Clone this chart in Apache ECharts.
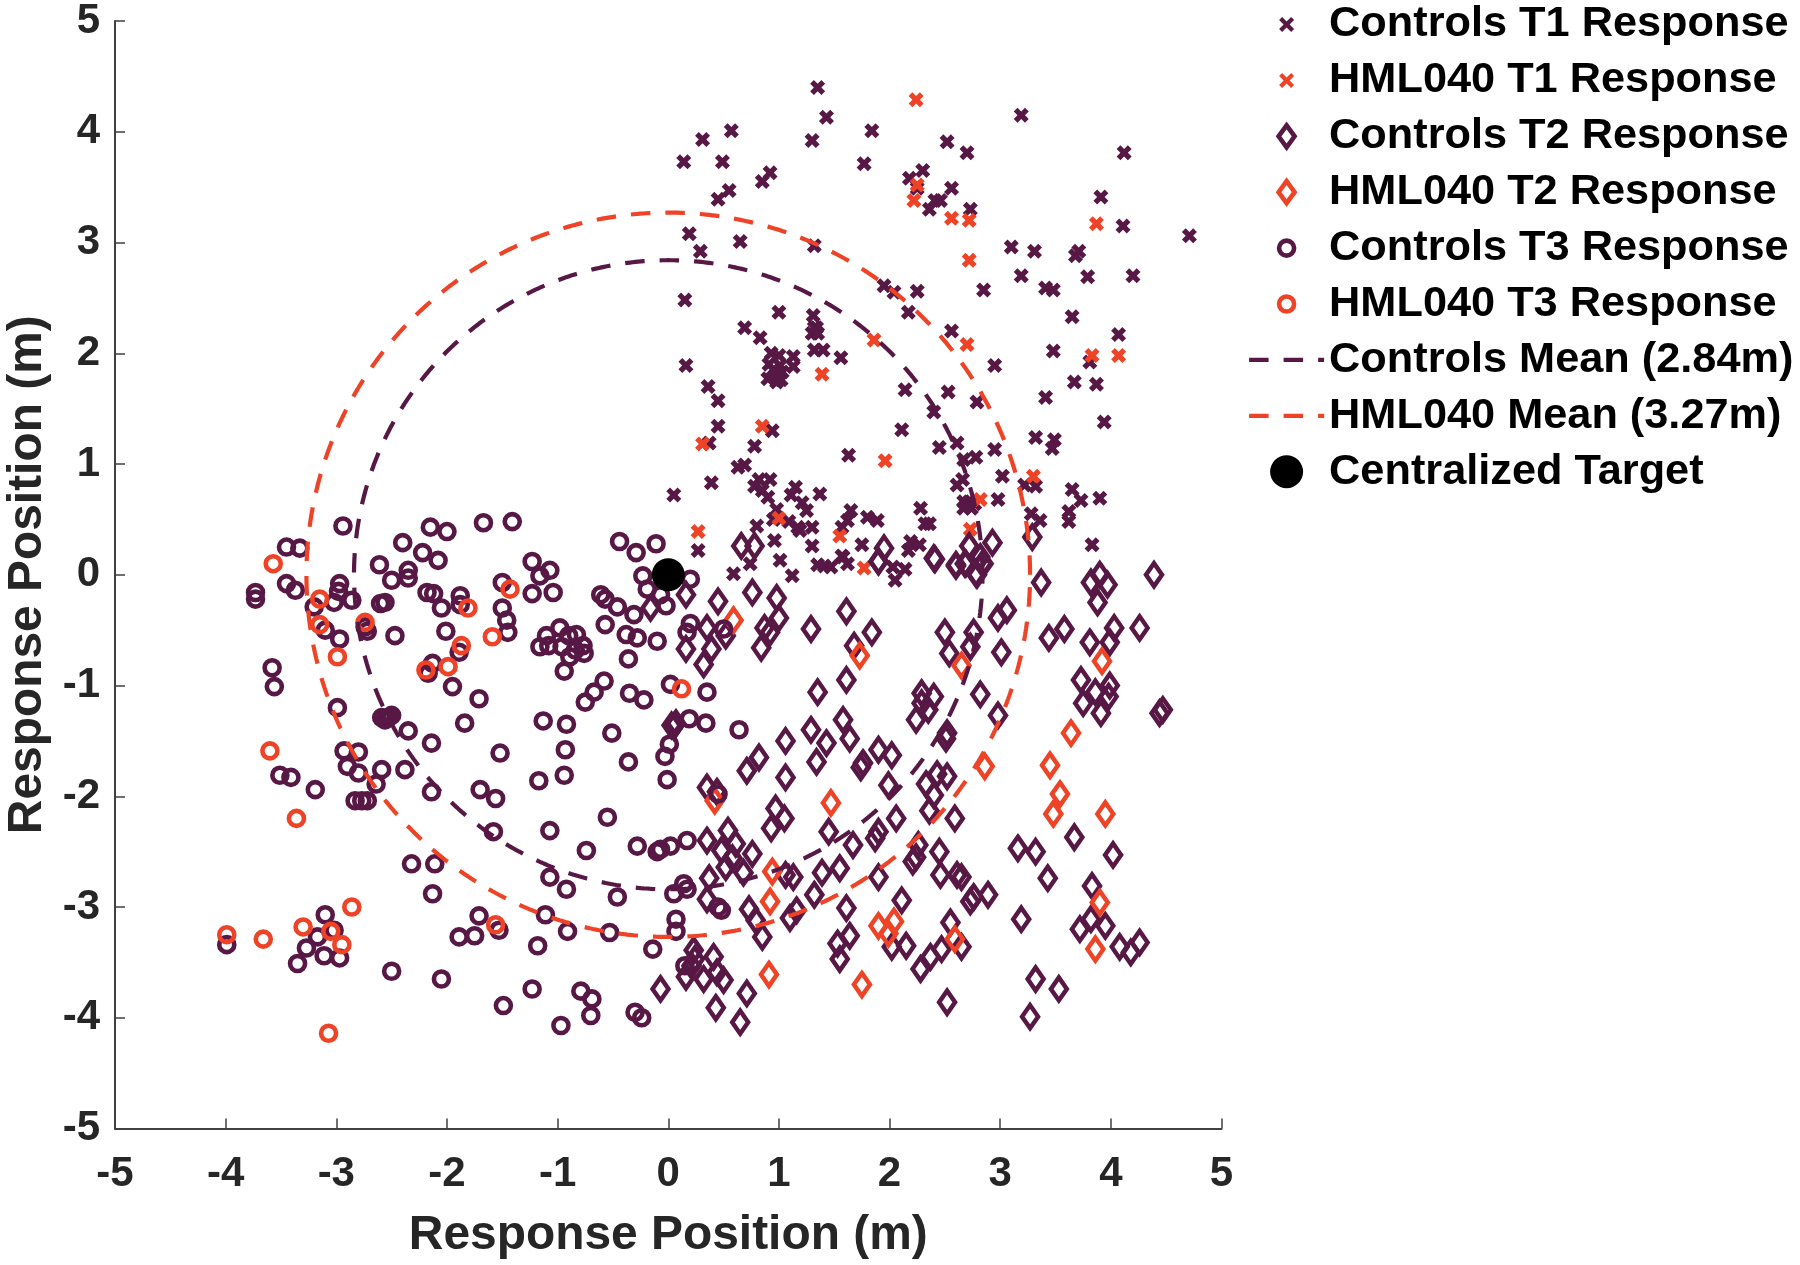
<!DOCTYPE html>
<html><head><meta charset="utf-8"><title>Response positions</title>
<style>html,body{margin:0;padding:0;background:#fff}#c{width:1800px;height:1265px}</style>
<script src="https://cdn.jsdelivr.net/npm/echarts@6/dist/echarts.min.js"></script></head>
<body><div id="c"></div>
<script>
const controlsT1 = [[1.35,4.40],[3.19,4.15],[1.43,4.13],[0.57,4.01],[1.84,4.01],[0.31,3.93],[1.30,3.92],[2.52,3.91],[2.70,3.81],[4.12,3.81],[0.14,3.73],[0.49,3.73],[1.77,3.71],[0.92,3.63],[2.30,3.65],[0.85,3.55],[2.18,3.58],[2.25,3.49],[2.56,3.49],[0.55,3.47],[0.45,3.39],[3.91,3.41],[2.41,3.38],[2.46,3.38],[2.36,3.30],[2.73,3.30],[4.11,3.15],[4.71,3.06],[0.19,3.08],[0.65,3.01],[0.29,2.92],[1.32,2.97],[3.10,2.96],[3.31,2.92],[3.71,2.92],[3.68,2.88],[3.19,2.70],[3.79,2.69],[4.20,2.70],[1.95,2.61],[2.04,2.55],[2.25,2.56],[2.85,2.57],[3.41,2.59],[3.48,2.57],[0.15,2.48],[1.00,2.37],[2.17,2.37],[1.31,2.34],[3.65,2.33],[1.32,2.23],[1.34,2.23],[1.30,2.18],[1.35,2.18],[0.69,2.23],[2.56,2.20],[4.07,2.17],[0.83,2.14],[1.32,2.03],[1.40,2.03],[3.48,2.02],[1.56,1.96],[3.81,1.92],[2.95,1.89],[0.93,2.00],[1.00,1.98],[1.13,1.97],[0.91,1.90],[1.01,1.89],[1.13,1.88],[0.90,1.77],[0.96,1.79],[1.03,1.83],[0.98,1.74],[0.95,1.85],[1.02,1.76],[0.16,1.89],[0.36,1.70],[0.45,1.57],[3.67,1.74],[3.87,1.72],[2.14,1.67],[2.53,1.65],[2.79,1.56],[3.41,1.60],[2.40,1.47],[3.94,1.38],[0.45,1.34],[0.94,1.30],[2.11,1.31],[3.32,1.24],[3.49,1.22],[3.47,1.14],[0.37,1.19],[0.78,1.16],[2.45,1.15],[2.61,1.19],[2.95,1.13],[1.63,1.08],[2.67,1.04],[2.78,1.06],[0.69,0.99],[0.63,0.97],[3.02,0.89],[2.66,0.86],[2.61,0.81],[0.82,0.86],[0.92,0.86],[0.39,0.83],[0.78,0.80],[0.85,0.76],[0.90,0.70],[1.15,0.79],[1.11,0.72],[1.37,0.73],[3.22,0.81],[3.32,0.80],[3.65,0.77],[3.73,0.67],[3.90,0.69],[2.98,0.68],[2.67,0.66],[2.72,0.66],[2.77,0.64],[2.67,0.60],[2.74,0.60],[0.05,0.72],[1.21,0.65],[1.25,0.58],[0.98,0.59],[0.95,0.50],[2.28,0.60],[1.65,0.58],[1.62,0.49],[1.57,0.43],[1.80,0.52],[1.89,0.49],[2.32,0.46],[2.36,0.46],[3.28,0.55],[3.36,0.49],[3.62,0.57],[3.62,0.48],[1.09,0.48],[1.17,0.43],[1.19,0.40],[1.30,0.43],[0.80,0.44],[0.27,0.22],[0.96,0.31],[1.30,0.26],[1.75,0.27],[2.19,0.30],[2.27,0.27],[2.17,0.22],[3.83,0.27],[1.57,0.17],[1.62,0.10],[0.74,0.10],[1.01,0.13],[1.35,0.09],[1.41,0.08],[1.47,0.07],[2.03,0.07],[2.14,0.05],[0.59,0.01],[1.12,-0.01],[2.05,-0.05],[1.58,0.16]];
const hmlT1 = [[2.24,4.29],[2.25,3.52],[2.22,3.38],[2.56,3.22],[2.72,3.20],[3.87,3.17],[2.72,2.84],[1.86,2.12],[2.70,2.08],[3.83,1.98],[4.07,1.98],[1.39,1.81],[0.85,1.34],[0.31,1.18],[1.96,1.03],[3.30,0.89],[2.82,0.68],[1.00,0.51],[1.55,0.35],[2.73,0.41],[0.27,0.39],[1.77,0.06]];
const controlsT2 = [[4.39,0],[3.37,-0.07],[3.90,0],[3.82,-0.07],[3.97,-0.09],[3.88,-0.25],[2.41,0.14],[1.90,0.12],[2.60,0.09],[2.68,0.10],[2.84,0.10],[2.79,0],[0.45,-0.24],[0.76,-0.16],[0.98,-0.21],[0.16,-0.18],[-0.16,-0.30],[1.61,-0.33],[1.00,-0.39],[1.29,-0.49],[1.84,-0.52],[0.87,-0.48],[0.92,-0.52],[0.35,-0.48],[0.16,-0.67],[0.39,-0.67],[0.32,-0.81],[0.84,-0.66],[1.68,-0.64],[2.50,-0.52],[2.76,-0.52],[2.98,-0.39],[3.06,-0.32],[2.73,-0.65],[2.54,-0.71],[3.01,-0.70],[3.44,-0.57],[3.58,-0.49],[4.03,-0.48],[4.26,-0.48],[3.81,-0.61],[3.99,-0.61],[0.52,-0.55],[1.61,-0.95],[1.35,-1.06],[2.82,-1.08],[3.73,-0.95],[3.99,-1.00],[3.86,-1.06],[3.75,-1.16],[3.98,-1.10],[3.91,-1.25],[2.29,-1.07],[2.29,-1.16],[2.40,-1.10],[2.35,-1.22],[2.24,-1.31],[2.98,-1.27],[4.44,-1.25],[4.47,-1.22],[2.51,-1.48],[2.52,-1.43],[1.58,-1.31],[1.64,-1.48],[1.29,-1.40],[1.06,-1.50],[1.43,-1.52],[1.34,-1.69],[0.82,-1.65],[0.71,-1.77],[1.06,-1.83],[1.76,-1.70],[1.74,-1.74],[1.90,-1.58],[2.02,-1.63],[1.99,-1.90],[2.33,-1.89],[2.43,-1.80],[2.52,-1.82],[2.40,-1.99],[2.36,-2.13],[2.59,-2.20],[2.06,-2.20],[0.35,-1.92],[0.44,-1.96],[0.97,-2.11],[1.05,-2.20],[0.93,-2.29],[0.54,-2.31],[0.35,-2.40],[0.48,-2.49],[0.61,-2.43],[0.76,-2.52],[0.58,-2.56],[0.52,-2.64],[0.68,-2.69],[0.37,-2.74],[0.73,-3.02],[0.35,-2.93],[1.45,-2.32],[1.90,-2.32],[1.87,-2.38],[1.67,-2.44],[1.55,-2.65],[1.39,-2.69],[1.90,-2.73],[2.26,-2.44],[2.24,-2.55],[2.21,-2.59],[2.45,-2.50],[2.46,-2.71],[2.61,-2.71],[2.65,-2.73],[2.76,-2.91],[2.73,-2.95],[2.89,-2.89],[3.16,-2.47],[3.32,-2.50],[3.67,-2.37],[4.02,-2.53],[3.43,-2.74],[3.83,-2.81],[2.11,-2.94],[3.19,-3.11],[1.06,-2.71],[1.13,-2.73],[1.32,-2.89],[1.16,-3.03],[1.10,-3.10],[0.79,-3.12],[0.85,-3.27],[1.61,-3.01],[2.55,-3.14],[1.64,-3.26],[1.53,-3.33],[1.55,-3.47],[2.02,-3.36],[2.15,-3.35],[2.47,-3.38],[2.37,-3.45],[2.28,-3.56],[2.65,-3.36],[3.82,-3.11],[3.72,-3.20],[3.95,-3.17],[4.08,-3.36],[4.18,-3.41],[4.26,-3.32],[3.32,-3.65],[3.53,-3.74],[3.27,-3.99],[2.52,-3.86],[0.71,-3.78],[0.43,-3.91],[0.65,-4.04],[-0.07,-3.74],[0.41,-3.45],[0.23,-3.39],[0.24,-3.47],[0.21,-3.53],[0.16,-3.63],[0.32,-3.65],[0.44,-3.59],[0.50,-3.66],[0.05,-1.37],[0.03,-1.36],[0.07,-1.34],[0.66,0.26],[0.78,0.26],[1.95,0.24],[1.90,0.12],[2.40,0.15],[2.72,0.26],[2.93,0.29],[2.60,0.08],[2.69,0.10],[2.82,0.16],[2.85,0.10],[2.78,0.01],[3.29,0.34]];
const hmlT2 = [[0.59,-0.41],[1.73,-0.73],[2.65,-0.82],[3.92,-0.78],[3.64,-1.43],[3.45,-1.72],[2.86,-1.73],[3.54,-1.98],[3.48,-2.16],[3.95,-2.16],[1.47,-2.06],[0.42,-2.04],[0.94,-2.68],[0.92,-2.95],[3.90,-2.96],[1.90,-3.17],[2.04,-3.13],[1.99,-3.24],[2.59,-3.29],[3.86,-3.38],[0.91,-3.61],[1.75,-3.70]];
const controlsT3 = [[-2.94,0.44],[-3.45,0.25],[-3.33,0.24],[-2.15,0.43],[-2.00,0.39],[-1.67,0.47],[-1.41,0.48],[-2.40,0.29],[-2.22,0.20],[-2.08,0.13],[-2.61,0.09],[-2.35,0.04],[-2.35,-0.03],[-2.50,-0.05],[-0.44,0.30],[-0.29,0.20],[-0.11,0.28],[-1.23,0.12],[-1.07,0.04],[-1.16,-0.01],[-3.45,-0.08],[-3.37,-0.14],[-3.73,-0.16],[-3.73,-0.22],[-2.97,-0.08],[-2.98,-0.15],[-3.02,-0.25],[-2.86,-0.23],[-3.20,-0.29],[-3.10,-0.50],[-2.97,-0.58],[-2.72,-0.51],[-2.74,-0.47],[-2.60,-0.26],[-2.56,-0.25],[-2.18,-0.16],[-2.12,-0.17],[-1.88,-0.19],[-1.88,-0.27],[-2.05,-0.30],[-2.47,-0.55],[-2.01,-0.51],[-1.50,-0.07],[-1.50,-0.30],[-1.46,-0.41],[-1.45,-0.52],[-1.23,-0.17],[-1.04,-0.16],[-0.61,-0.18],[-0.57,-0.22],[-0.46,-0.29],[-0.31,-0.36],[-0.57,-0.45],[-0.38,-0.54],[-0.28,-0.57],[-0.10,-0.60],[-0.36,-0.76],[-0.23,-0.01],[-0.19,-0.13],[0.20,-0.04],[-0.07,-0.18],[-0.02,-0.28],[0.20,-0.44],[0.17,-0.52],[-0.98,-0.48],[-1.10,-0.55],[-1.16,-0.65],[-1.08,-0.64],[-0.96,-0.65],[-0.90,-0.55],[-0.83,-0.54],[-0.77,-0.64],[-0.76,-0.71],[-0.89,-0.74],[-0.84,-0.68],[-0.94,-0.87],[-1.89,-0.70],[-2.13,-0.80],[-2.17,-0.89],[-3.58,-0.84],[-3.56,-1.01],[-1.95,-1.01],[-1.71,-1.12],[-2.99,-1.20],[-0.58,-0.96],[-0.67,-1.06],[-0.75,-1.15],[-0.35,-1.07],[-0.22,-1.13],[0.02,-0.99],[-1.13,-1.32],[-0.92,-1.35],[-0.51,-1.43],[-1.84,-1.34],[0.19,-1.30],[-2.59,-1.29],[-2.53,-1.29],[-2.56,-1.31],[-2.50,-1.27],[-2.35,-1.41],[-2.14,-1.52],[-2.93,-1.59],[-2.80,-1.60],[-2.90,-1.73],[-2.80,-1.79],[-2.59,-1.76],[-2.38,-1.76],[-2.64,-1.89],[-3.51,-1.81],[-3.41,-1.83],[-3.19,-1.94],[-2.83,-2.04],[-2.72,-2.04],[-2.77,-2.04],[-2.14,-1.96],[-1.52,-1.61],[-0.93,-1.58],[-0.94,-1.81],[-1.17,-1.86],[-1.70,-1.94],[-1.56,-2.02],[-0.36,-1.69],[-0.01,-1.85],[-0.03,-1.64],[0.01,-1.53],[-0.55,-2.19],[-1.58,-2.32],[-1.07,-2.31],[-0.74,-2.49],[-0.28,-2.45],[-0.10,-2.50],[-0.07,-2.48],[0.02,-2.45],[0.17,-2.40],[-2.32,-2.61],[-2.11,-2.61],[-2.13,-2.88],[-1.07,-2.73],[-0.92,-2.84],[-0.46,-2.91],[0.14,-2.79],[0.17,-2.84],[0.05,-2.88],[-1.11,-3.07],[-1.71,-3.08],[-1.53,-3.21],[-1.89,-3.27],[-1.75,-3.26],[-0.91,-3.22],[-0.53,-3.23],[0.07,-3.11],[0.07,-3.22],[-1.18,-3.35],[-0.14,-3.38],[-3.10,-3.07],[-3.02,-3.21],[-3.17,-3.27],[-3.27,-3.37],[-3.11,-3.44],[-2.97,-3.46],[-3.35,-3.51],[-3.99,-3.34],[-2.50,-3.58],[-2.05,-3.65],[-1.23,-3.74],[-1.49,-3.89],[-0.79,-3.76],[-0.69,-3.83],[-0.70,-3.98],[-0.97,-4.07],[-0.30,-3.95],[-0.24,-4.00],[0.50,-0.49],[0.35,-1.06],[0.34,-1.34],[0.64,-1.40],[0.45,-1.98],[0.48,-3.03],[0.45,-3.00],[0.15,-3.53]];
const hmlT3 = [[-3.57,0.10],[-3.15,-0.22],[-3.15,-0.45],[-2.74,-0.43],[-2.99,-0.74],[-1.81,-0.30],[-1.43,-0.13],[-1.59,-0.56],[-1.87,-0.64],[-1.99,-0.83],[-2.19,-0.86],[0.12,-1.03],[-3.60,-1.59],[-3.36,-2.20],[-2.86,-3.00],[-3.30,-3.18],[-3.05,-3.22],[-2.95,-3.34],[-3.99,-3.25],[-3.66,-3.29],[-3.07,-4.14],[-1.56,-3.16]];
const targetPoint = [[0,0]];
const controlsMeanRadius = 2.84;
const hmlMeanRadius = 3.27;
const seriesNames = ['Controls T1 Response','HML040 T1 Response','Controls T2 Response','HML040 T2 Response','Controls T3 Response','HML040 T3 Response','Controls Mean (2.84m)','HML040 Mean (3.27m)','Centralized Target'];
const tickValues = [-5,-4,-3,-2,-1,0,1,2,3,4,5];
const axisTitle = 'Response Position (m)';

const PURPLE = '#581845', RED = '#EE4326', FONT = '"Liberation Sans", Arial, sans-serif';
function circlePoints(r){ const p=[]; for(let i=0;i<=720;i++){const t=i/720*2*Math.PI; p.push([r*Math.cos(t), r*Math.sin(t)]);} return p; }
const crossPlot = 'path://M2.5 0L5 2.5L7.5 0L10 2.5L7.5 5L10 7.5L7.5 10L5 7.5L2.5 10L0 7.5L2.5 5L0 2.5Z';
// legend icons: drawn in a 38x38 box so they keep their pixel size
const iconPad = 'M0 0L0.01 0M38 38L37.99 38';
const iconCross = 'path://'+iconPad+'M14.5 11.5L19 16L23.5 11.5L26.5 14.5L22 19L26.5 23.5L23.5 26.5L19 22L14.5 26.5L11.5 23.5L16 19L11.5 14.5Z';
const iconDiamond = 'path://'+iconPad+'M19 8L27 19L19 30L11 19Z';
const iconCircle = 'path://'+iconPad+'M26.5 19A7.5 7.5 0 1 1 11.5 19A7.5 7.5 0 1 1 26.5 19Z';
const iconDisc = 'path://'+iconPad+'M35.5 19A16.5 16.5 0 1 1 2.5 19A16.5 16.5 0 1 1 35.5 19Z';

function scatter(i,data,symbol,size,color,filled){
  return {type:'scatter',name:seriesNames[i],data,symbol,symbolSize:size,silent:true,clip:false,
    itemStyle: filled ? {color,borderWidth:0,opacity:1} : {color:'rgba(0,0,0,0)',borderColor:color,borderWidth:4.6,opacity:1}};
}
const legendItem=(i,icon,color,filled)=>({name:seriesNames[i],icon,
  itemStyle: filled?{color,borderWidth:0,opacity:1}:{color:'rgba(0,0,0,0)',borderColor:color,borderWidth:4.6,opacity:1}});
const lineLegend=(i)=>({name:seriesNames[i],lineStyle:{width:4.2,type:[19.5,15],cap:'butt'},itemStyle:{opacity:0}});
const meanLine=(i,r,color)=>({type:'line',name:seriesNames[i],data:circlePoints(r),showSymbol:false,symbol:'none',silent:true,smooth:false,clip:false,
  lineStyle:{color,width:4.2,type:[19.5,15]},itemStyle:{color}});

const chart = echarts.init(document.getElementById('c'),null,{renderer:'canvas'});
const axisCommon = {type:'value',min:-5,max:5,interval:1,splitLine:{show:false},
  axisLine:{onZero:false,show:true,lineStyle:{color:'#404040',width:2}},
  axisTick:{show:true,inside:true,length:10,lineStyle:{color:'#404040',width:1.5}},
  nameLocation:'middle',nameTextStyle:{fontFamily:FONT,fontWeight:'bold',fontSize:47.9,color:'#262626'},name:axisTitle};
chart.setOption({
  animation:false,backgroundColor:'#fff',
  grid:{left:115,top:21,width:1106.5,height:1107.5,containLabel:false,outerBoundsMode:'none'},
  xAxis:Object.assign({},axisCommon,{nameGap:83,axisLabel:{fontFamily:FONT,fontWeight:'bold',fontSize:42,color:'#262626',margin:25,showMinLabel:true,showMaxLabel:true,customValues:tickValues}}),
  yAxis:Object.assign({},axisCommon,{nameGap:63,axisLabel:{fontFamily:FONT,fontWeight:'bold',fontSize:42,color:'#262626',margin:15,padding:[4,0,0,0],showMinLabel:true,showMaxLabel:true,customValues:tickValues}}),
  legend:{show:true,orient:'vertical',left:1247,top:3,padding:0,itemWidth:75,itemHeight:38,itemGap:12.9,selectedMode:false,
    textStyle:{fontFamily:FONT,fontWeight:'bold',fontSize:43.3,color:'#000',lineHeight:38},
    data:[legendItem(0,iconCross,PURPLE,true),legendItem(1,iconCross,RED,true),legendItem(2,iconDiamond,PURPLE),legendItem(3,iconDiamond,RED),legendItem(4,iconCircle,PURPLE),legendItem(5,iconCircle,RED),lineLegend(6),lineLegend(7),legendItem(8,iconDisc,'#000',true)]},
  series:[
    scatter(0,controlsT1,crossPlot,15,PURPLE,true),
    scatter(1,hmlT1,crossPlot,15,RED,true),
    scatter(2,controlsT2,'diamond',[16,23],PURPLE),
    scatter(3,hmlT2,'diamond',[16,23],RED),
    scatter(4,controlsT3,'circle',15,PURPLE),
    scatter(5,hmlT3,'circle',15,RED),
    meanLine(6,controlsMeanRadius,PURPLE),
    meanLine(7,hmlMeanRadius,RED),
    scatter(8,targetPoint,'circle',33,'#000',true)
  ]
});
</script></body></html>
